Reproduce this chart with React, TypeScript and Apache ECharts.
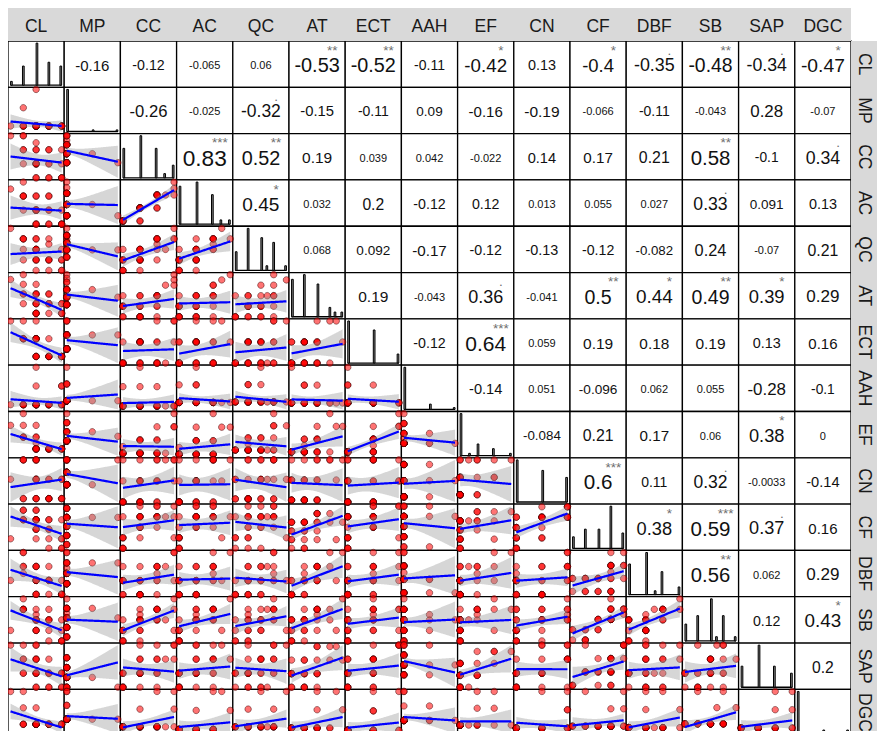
import React, { useEffect, useRef } from "react";
import * as echarts from "echarts";

// ---- variable names (strip labels) ----
const varNames = ["CL", "MP", "CC", "AC", "QC", "AT", "ECT", "AAH", "EF", "CN", "CF", "DBF", "SB", "SAP", "DGC"];

// ---- observations (28 respondents) ----
const CL = [5, 5, 4, 5, 3, 5, 4, 4, 3, 5, 3, 4, 3, 3, 4, 3, 2, 3, 3, 4, 3, 2, 3, 3, 2, 2, 1, 2];
const MP = [1, 1, 1, 1, 1, 1, 1, 1, 1, 1, 1, 1, 1, 3, 1, 1, 2, 1, 1, 1, 1, 1, 1, 1, 1, 1, 1, 1];
const CC = [1, 3, 1, 1, 3, 1, 3, 1, 3, 5, 1, 3, 3, 1, 5, 3, 3, 5, 3, 5, 3, 5, 6, 5, 7, 5, 7, 7];
const AC = [1, 1, 1, 1, 1, 1, 3, 1, 3, 3, 1, 3, 3, 1, 5, 3, 3, 5, 3, 5, 3, 5, 5, 3, 7, 5, 6, 5];
const QC = [1, 3, 3, 1, 3, 5, 1, 3, 5, 3, 1, 3, 5, 3, 7, 5, 3, 7, 5, 6, 3, 7, 5, 7, 7, 5, 9, 7];
const AT = [1, 1, 3, 1, 1, 3, 1, 3, 1, 3, 5, 3, 1, 3, 5, 3, 5, 1, 3, 5, 5, 3, 7, 5, 9, 5, 8, 7];
const ECT = [1, 1, 1, 1, 2, 1, 1, 1, 2, 1, 1, 2, 1, 2, 1, 2, 2, 1, 2, 1, 2, 2, 1, 3, 2, 2, 3, 3];
const AAH = [1, 1, 1, 1, 1, 2, 1, 1, 1, 2, 1, 1, 3, 1, 1, 1, 1, 1, 1, 1, 2, 1, 1, 1, 1, 1, 1, 1];
const EF = [1, 1, 1, 1, 1, 1, 1, 1, 1, 1, 1, 1, 1, 2, 1, 1, 3, 1, 3, 1, 3, 3, 1, 5, 5, 3, 5, 7];
const CN = [1, 1, 1, 2, 1, 1, 2, 1, 1, 2, 1, 1, 2, 3, 1, 2, 1, 3, 2, 2, 3, 1, 3, 2, 3, 3, 2, 3];
const CF = [1, 2, 1, 2, 3, 1, 4, 2, 3, 4, 2, 3, 4, 4, 3, 4, 4, 4, 3, 4, 5, 4, 4, 5, 4, 5, 2, 5];
const DBF = [1, 1, 3, 1, 1, 3, 1, 3, 3, 1, 3, 3, 1, 5, 3, 3, 5, 3, 1, 5, 3, 4, 5, 5, 7, 5, 3, 7];
const SB = [1, 1, 3, 1, 3, 3, 5, 1, 3, 5, 3, 5, 5, 5, 5, 5, 7, 5, 5, 7, 6, 7, 5, 7, 9, 7, 3, 7];
const SAP = [1, 2, 1, 2, 2, 1, 2, 2, 1, 2, 2, 3, 2, 1, 2, 3, 2, 3, 2, 1, 4, 2, 3, 4, 3, 3, 4, 4];
const DGC = [1, 1, 1, 1, 1, 1, 1, 1, 1, 1, 1, 1, 1, 1, 1, 1, 1, 1, 1, 1, 2, 1, 1, 1, 2, 3, 3, 1];

const vars = [CL, MP, CC, AC, QC, AT, ECT, AAH, EF, CN, CF, DBF, SB, SAP, DGC];

// ---- correlations shown in the upper triangle (row variable vs. later columns) ----
const corrCL = [-0.16, -0.12, -0.065, 0.06, -0.53, -0.52, -0.11, -0.42, 0.13, -0.4, -0.35, -0.48, -0.34, -0.47];
const corrMP = [-0.26, -0.025, -0.32, -0.15, -0.11, 0.09, -0.16, -0.19, -0.066, -0.11, -0.043, 0.28, -0.07];
const corrCC = [0.83, 0.52, 0.19, 0.039, 0.042, -0.022, 0.14, 0.17, 0.21, 0.58, -0.1, 0.34];
const corrAC = [0.45, 0.032, 0.2, -0.12, 0.12, 0.013, 0.055, 0.027, 0.33, 0.091, 0.13];
const corrQC = [0.068, 0.092, -0.17, -0.12, -0.13, -0.12, -0.082, 0.24, -0.07, 0.21];
const corrAT = [0.19, -0.043, 0.36, -0.041, 0.5, 0.44, 0.49, 0.39, 0.29];
const corrECT = [-0.12, 0.64, 0.059, 0.19, 0.18, 0.19, 0.13, 0.16];
const corrAAH = [-0.14, 0.051, -0.096, 0.062, 0.055, -0.28, -0.1];
const corrEF = [-0.084, 0.21, 0.17, 0.06, 0.38, 0];
const corrCN = [0.6, 0.11, 0.32, -0.0033, -0.14];
const corrCF = [0.38, 0.59, 0.37, 0.16];
const corrDBF = [0.56, 0.062, 0.29];
const corrSB = [0.12, 0.43];
const corrSAP = [0.2];
const corrRows = [corrCL, corrMP, corrCC, corrAC, corrQC, corrAT, corrECT, corrAAH, corrEF, corrCN, corrCF, corrDBF, corrSB, corrSAP];

// critical |t| for df = 26 at p = .001, .01, .05, .1
const T_CRIT = [3.707, 2.779, 2.056, 1.706];
const STAR_TXT = ["***", "**", "*", "."];

function corrOf(i: number, j: number) {
  const a = Math.min(i, j), b = Math.max(i, j);
  return corrRows[a][b - a - 1];
}
function mean(v: number[]) { return v.reduce((s, x) => s + x, 0) / v.length; }
function sd(v: number[]) {
  const m = mean(v);
  return Math.sqrt(v.reduce((s, x) => s + (x - m) * (x - m), 0) / (v.length - 1));
}
function stars(r: number, n: number) {
  if (Math.abs(r) >= 1) return "***";
  const t = Math.abs(r) * Math.sqrt((n - 2) / (1 - r * r));
  for (let k = 0; k < T_CRIT.length; k++) if (t > T_CRIT[k]) return STAR_TXT[k];
  return "";
}
function corrFont(r: number) {
  const a = Math.abs(r);
  return a < 0.08 ? 11 : 9 + 15 * Math.sqrt(a);
}

const FONT = "'Liberation Sans', Arial, Helvetica, sans-serif";

function buildOption() {
  const V = vars.length;
  const PW = 843, cw = PW / V, ch = 46.31, HH = 33, SW = 26;
  const grids: any[] = [], xAxes: any[] = [], yAxes: any[] = [], series: any[] = [], graphics: any[] = [];

  graphics.push({ type: "rect", shape: { x: 0, y: 0, width: PW, height: HH }, style: { fill: "#d9d9d9" }, z: 50 });
  graphics.push({ type: "rect", shape: { x: PW, y: HH, width: SW, height: V * ch }, style: { fill: "#d9d9d9" }, z: 50 });

  for (let j = 0; j < V; j++) {
    graphics.push({
      type: "text", x: j * cw + cw / 2, y: HH / 2 + 1.5, z: 60,
      style: { text: varNames[j], fontSize: 17.5, fontFamily: FONT, fill: "#1a1a1a", align: "center", verticalAlign: "middle" },
    });
    graphics.push({
      type: "text", x: PW + SW / 2 + 1, y: HH + j * ch + ch / 2, rotation: -Math.PI / 2, z: 60,
      style: { text: varNames[j], fontSize: 17.5, fontFamily: FONT, fill: "#1a1a1a", align: "center", verticalAlign: "middle" },
    });
  }

  for (let i = 0; i < V; i++) {
    for (let j = 0; j < V; j++) {
      const k = grids.length;
      const left = j * cw, top = HH + i * ch;
      grids.push({
        left, top, width: cw, height: ch, show: true, backgroundColor: "#fff", borderColor: "#000", borderWidth: 1.3,
        containLabel: false, outerBoundsMode: "none",
      });
      let xr = [0, 1], yr = [0, 1];

      if (i > j) {
        const X = vars[j], Y = vars[i], n = X.length;
        const r = corrOf(i, j);
        const mx = mean(X), my = mean(Y), sx = sd(X), sy = sd(Y);
        const b = r * sy / sx, a = my - b * mx;
        const s = sy * Math.sqrt((1 - r * r) * (n - 1) / (n - 2));
        const sxx = (n - 1) * sx * sx;
        const xmin = Math.min(...X), xmax = Math.max(...X);
        const rib: number[][] = [];
        const steps = 80;
        for (let q = 0; q < steps; q++) {
          const x = xmin + (xmax - xmin) * q / (steps - 1);
          const f = a + b * x;
          const se = s * Math.sqrt(1 / n + (x - mx) * (x - mx) / sxx);
          rib.push([x, f - 2.056 * se, f + 2.056 * se, f]);
        }
        let ylo = Math.min(...Y), yhi = Math.max(...Y);
        rib.forEach((p) => { ylo = Math.min(ylo, p[1]); yhi = Math.max(yhi, p[2]); });
        const dx = (xmax - xmin) * 0.05, dy = (yhi - ylo) * 0.05;
        xr = [xmin - dx, xmax + dx];
        yr = [ylo - dy, yhi + dy];
        series.push({
          type: "scatter", xAxisIndex: k, yAxisIndex: k, silent: true, z: 2,
          data: X.map((x, t) => [x, Y[t]]),
          symbolSize: 6.5,
          itemStyle: { color: "rgba(255,0,0,0.55)", borderColor: "rgba(60,0,0,0.6)", borderWidth: 0.8, opacity: 1 },
        });
        series.push({
          type: "custom", xAxisIndex: k, yAxisIndex: k, silent: true, z: 3,
          data: rib,
          renderItem: (params: any, api: any) => {
            if (params.dataIndex !== 0) return null;
            const up = rib.map((p) => api.coord([p[0], p[2]]));
            const lo = rib.map((p) => api.coord([p[0], p[1]])).reverse();
            const ln = rib.map((p) => api.coord([p[0], p[3]]));
            return {
              type: "group",
              children: [
                { type: "polygon", shape: { points: up.concat(lo) }, style: { fill: "rgba(153,153,153,0.4)", stroke: null } },
                { type: "polyline", shape: { points: ln }, style: { stroke: "#0000ff", lineWidth: 2.2, fill: null } },
              ],
            };
          },
        });
      } else if (i === j) {
        const X = vars[i];
        const mn = Math.min(...X), mxv = Math.max(...X);
        const w = (mxv - mn) / 29;
        const counts = new Array(30).fill(0);
        X.forEach((v) => { counts[Math.min(29, Math.floor((v - mn + w / 2) / w + 1e-9))]++; });
        const maxc = Math.max(...counts);
        const bins = counts.map((c, q) => [mn + q * w, c]);
        const lo = mn - w / 2, hi = mxv + w / 2;
        const ex = (hi - lo) * 0.05;
        xr = [lo - ex, hi + ex];
        yr = [-0.05 * maxc, 1.05 * maxc];
        series.push({
          type: "custom", xAxisIndex: k, yAxisIndex: k, silent: true, z: 3,
          data: bins,
          renderItem: (params: any, api: any) => {
            const c = api.value(0), cnt = api.value(1);
            const children: any[] = [];
            if (params.dataIndex === 0) {
              const p0 = api.coord([lo, 0]), p1 = api.coord([hi, 0]);
              children.push({ type: "line", shape: { x1: p0[0], y1: p0[1], x2: p1[0], y2: p1[1] }, style: { stroke: "#000", lineWidth: 1.3 } });
            }
            if (cnt > 0) {
              const p0 = api.coord([c - w / 2, cnt]), p1 = api.coord([c + w / 2, 0]);
              children.push({
                type: "rect",
                shape: { x: p0[0], y: p0[1], width: p1[0] - p0[0], height: p1[1] - p0[1] },
                style: { fill: "#7f7f7f", stroke: "#000", lineWidth: 1 },
              });
            }
            return { type: "group", children };
          },
        });
      } else {
        const r = corrOf(i, j);
        graphics.push({
          type: "text", x: left + cw / 2, y: top + ch / 2 + 1, z: 60,
          style: { text: String(r), fontSize: corrFont(r), fontFamily: FONT, fill: "#111", align: "center", verticalAlign: "middle" },
        });
        const st = stars(r, vars[0].length);
        if (st) {
          graphics.push({
            type: "text", x: left + cw * 0.77, y: top + ch * 0.2, z: 61,
            style: { text: st, fontSize: 13.5, fontFamily: FONT, fill: "#6e6e6e", align: "center", verticalAlign: "middle" },
          });
        }
      }
      xAxes.push({ gridIndex: k, type: "value", min: xr[0], max: xr[1], show: false, splitLine: { show: false } });
      yAxes.push({ gridIndex: k, type: "value", min: yr[0], max: yr[1], show: false, splitLine: { show: false } });
    }
  }

  return {
    animation: false,
    backgroundColor: "#fff",
    grid: grids,
    xAxis: xAxes,
    yAxis: yAxes,
    series,
    graphic: graphics,
  };
}

export default function App() {
  const ref = useRef<HTMLDivElement>(null);
  useEffect(() => {
    const el = ref.current!;
    const chart = echarts.init(el, null, { renderer: "svg" });
    chart.setOption(buildOption() as any);
    return () => chart.dispose();
  }, []);
  return <div ref={ref} style={{ position: "fixed", left: 8, top: 8, width: 869, height: 723 }} />;
}
